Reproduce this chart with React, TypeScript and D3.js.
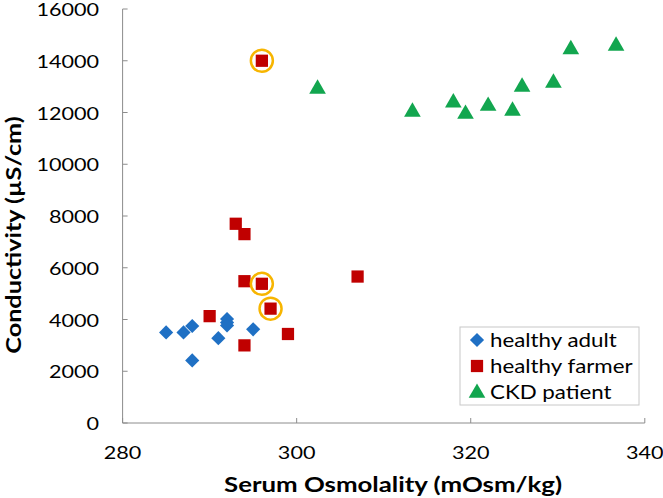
import React from 'react';
import * as d3 from 'd3';

// values
const adultX = [285, 287, 288, 288, 291, 292, 292, 292, 295];
const adultY = [3500, 3500, 3750, 2420, 3280, 4020, 3880, 3770, 3620];
const farmerX = [296, 293, 294, 294, 296, 297, 290, 294, 299, 307];
const farmerY = [14000, 7700, 7300, 5480, 5380, 4420, 4130, 3000, 3440, 5660];
const ckdX = [302.4, 313.3, 318, 319.4, 322, 324.8, 325.9, 329.5, 331.5, 336.7];
const ckdY = [12950, 12060, 12420, 11980, 12290, 12100, 13030, 13180, 14480, 14610];
// the circled farmer points
const circled = [0, 4, 5];
const xTicks = [280, 300, 320, 340];
const yTicks = [0, 2000, 4000, 6000, 8000, 10000, 12000, 14000, 16000];
const seriesNames = ['healthy adult', 'healthy farmer', 'CKD patient'];

const W = 663;
const H = 498;
const font = 'Lato, "Open Sans", sans-serif';
const axisColor = '#8c8c8c';
const colors = ['#1f70c4', '#c00000', '#12a64f'];
// the source text looks a bit wider than the font, stretch it sideways
const stretch = 1.2;

const x = d3.scaleLinear().domain([280, 340]).range([122.6, 644.8]);
const y = d3.scaleLinear().domain([0, 16000]).range([423, 9]);

const diamond = d3.symbol().type(d3.symbolSquare).size(100)() as string;
const square = d3.symbol().type(d3.symbolSquare).size(150)() as string;
const triangle = d3.symbol().type(d3.symbolTriangle).size(120)() as string;

const Mark = ({ kind, cx, cy }: { kind: number; cx: number; cy: number }) => {
  if (kind === 0)
    return <path d={diamond} fill={colors[0]} transform={`translate(${cx},${cy}) rotate(45)`} />;
  if (kind === 1) return <path d={square} fill={colors[1]} transform={`translate(${cx},${cy})`} />;
  return <path d={triangle} fill={colors[2]} transform={`translate(${cx},${cy + 1})`} />;
};

const Label = ({ tx, ty, rot = 0, anchor = 'start', size, bold = false, dy, children }: any) => (
  <text
    transform={`translate(${tx},${ty}) rotate(${rot}) scale(${stretch},1)`}
    textAnchor={anchor}
    dy={dy}
    fontFamily={font}
    fontSize={size}
    fontWeight={bold ? 'bold' : 'normal'}
    fill="#000"
  >
    {children}
  </text>
);

export default function App() {
  const series = [
    adultX.map((v, i) => [v, adultY[i]]),
    farmerX.map((v, i) => [v, farmerY[i]]),
    ckdX.map((v, i) => [v, ckdY[i]]),
  ];
  const [x0, x1] = x.range();
  const [y0, y1] = y.range();

  return (
    <svg width={W} height={H} style={{ position: 'absolute', left: 0, top: 0, background: '#fff' }}>
      {/* axes */}
      <line x1={x0} x2={x1} y1={y0} y2={y0} stroke={axisColor} strokeWidth={1} />
      <line x1={x0} x2={x0} y1={y0} y2={y1} stroke={axisColor} strokeWidth={1} />
      {xTicks.map(t => (
        <g key={t}>
          <line x1={x(t)} x2={x(t)} y1={y0} y2={y0 - 5} stroke={axisColor} />
          <Label tx={x(t)} ty={459} anchor="middle" size={18}>
            {t}
          </Label>
        </g>
      ))}
      {yTicks.map(t => (
        <g key={t}>
          <line x1={x0} x2={x0 + 5} y1={y(t)} y2={y(t)} stroke={axisColor} />
          <Label tx={99} ty={y(t)} dy="0.4em" anchor="end" size={18}>
            {t}
          </Label>
        </g>
      ))}
      <Label tx={393} ty={492} anchor="middle" size={21.5} bold>
        Serum Osmolality (mOsm/kg)
      </Label>
      <Label tx={21} ty={235} rot={-90} anchor="middle" size={21} bold>
        Conductivity (µS/cm)
      </Label>

      {/* points */}
      {series.map((pts, k) => (
        <g key={k}>
          {pts.map(([px, py], i) => (
            <Mark key={i} kind={k} cx={x(px)} cy={y(py)} />
          ))}
        </g>
      ))}
      {circled.map(i => (
        <circle
          key={i}
          cx={x(farmerX[i])}
          cy={y(farmerY[i])}
          r={11}
          fill="none"
          stroke="#f7b500"
          strokeWidth={2.5}
        />
      ))}

      {/* legend */}
      <rect x={460} y={327} width={179} height={78} fill="#fff" stroke="#c8c8c8" />
      {seriesNames.map((name, k) => (
        <g key={name} transform={`translate(477,${340 + k * 26})`}>
          <Mark kind={k} cx={0} cy={0} />
          <Label tx={13} ty={0} dy="0.35em" size={18.6}>
            {name}
          </Label>
        </g>
      ))}
    </svg>
  );
}
